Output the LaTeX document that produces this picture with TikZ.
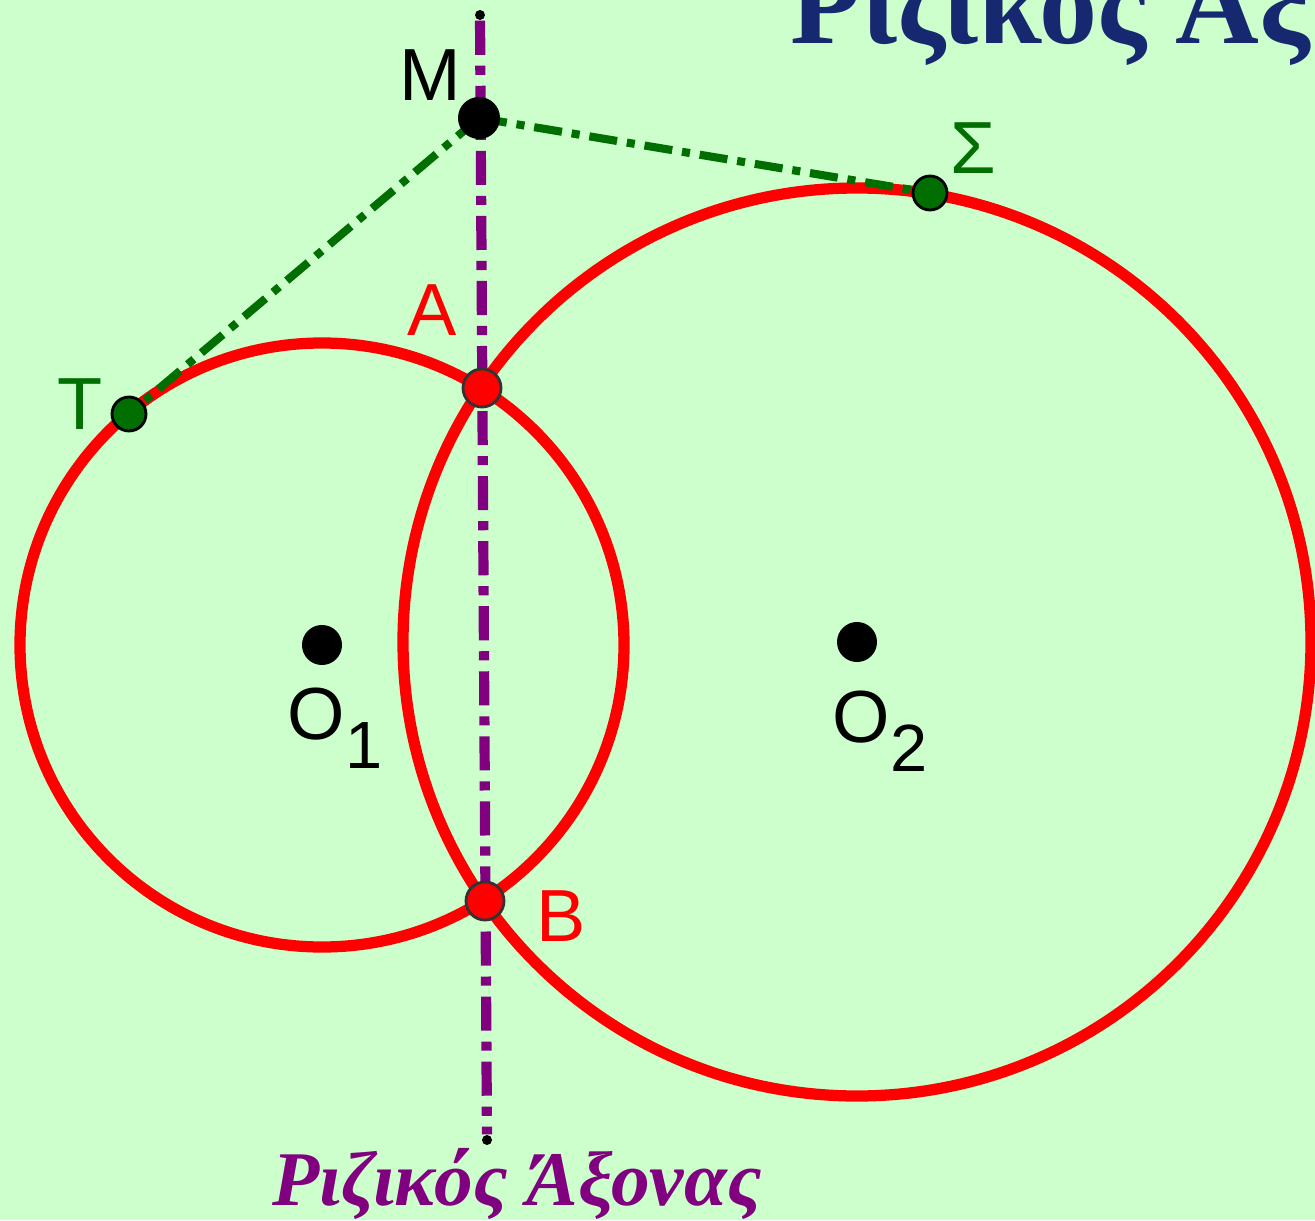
\documentclass[tikz,border=0pt]{standalone}
\usepackage{fontspec}
\setmainfont{Liberation Serif}
\newfontfamily\lblfont{Liberation Sans}
\usetikzlibrary{positioning}
\definecolor{bgGreen}{RGB}{204,255,204}
\definecolor{axisPurple}{RGB}{128,0,128}
\definecolor{tanGreen}{RGB}{0,110,0}
\definecolor{titleBlue}{RGB}{22,40,112}
\newcommand{\lowidx}[1]{\raisebox{-0.4em}{\fontsize{19}{22}\selectfont#1}}

\begin{document}
\begin{tikzpicture}[x=0.01cm,y=0.01cm,
  every node/.style={font=\lblfont\fontsize{21}{24}\selectfont,inner sep=0pt},
  circ/.style={red,line width=3.2pt},
  radaxis/.style={axisPurple,line width=2.9pt,dash pattern=on 9.7pt off 3.1pt on 2.6pt off 3.1pt},
  tanline/.style={tanGreen,line width=2.3pt,dash pattern=on 8pt off 2.8pt on 2.3pt off 2.8pt},
  cdot/.style={circle,fill=black,minimum size=0.4cm},
  enddot/.style={circle,fill=black,minimum size=0.1cm},
  tdot/.style={circle,fill=tanGreen,draw=black,line width=0.8pt,minimum size=0.34cm},
  xdot/.style={circle,fill=red,draw=black!80,line width=0.8pt,minimum size=0.38cm}]
  \useasboundingbox (0,0) rectangle (1315,1220);
  \clip (0,0) rectangle (1315,1220);
  \fill[bgGreen] (0,0) rectangle (1315,1220);
  % centres and points
  \coordinate (O1) at (322,575);
  \coordinate (O2) at (857,578);
  \coordinate (M) at (479,1102);
  \coordinate (A) at (482,832);
  \coordinate (B) at (485,319);
  \coordinate (T) at (129,806);
  \coordinate (S) at (930,1027);
  \draw[circ] (O1) circle (302);
  \draw[circ] (O2) circle (454);
  \node[enddot] (axtop) at (480,1205) {};
  \node[enddot] (axbot) at (487,80) {};
  \draw[radaxis] (axtop) -- (axbot);
  \draw[tanline] (M) -- (T);
  \draw[tanline] (M) -- (S);
  \node[cdot] (dO1) at (O1) {};
  \node[cdot] (dO2) at (O2) {};
  \node[cdot,minimum size=0.42cm] (dM) at (M) {};
  \node[xdot] (dA) at (A) {};
  \node[xdot] (dB) at (B) {};
  \node[tdot] (dT) at (T) {};
  \node[tdot] (dS) at (S) {};
  % labels
  \node (lM) at (430,1145) {M};
  \node[red] (lA) at (432,910) {A};
  \node[red] (lB) at (561,304) {B};
  \node[tanGreen] (lT) at (80,816) {T};
  \node[tanGreen] (lS) at (973,1072) {Σ};
  \node[anchor=base west] (lO1) at (287,481) {O\lowidx{1}};
  \node[anchor=base west] (lO2) at (832,478) {O\lowidx{2}};
  \node[anchor=base west,font=\bfseries\fontsize{33}{36}\selectfont,text=titleBlue] (title) at (790,1176) {Ριζικός Άξ};
  \node[anchor=base,font=\bfseries\itshape\fontsize{22}{26}\selectfont,text=axisPurple] (axlabel) at (517,15) {Ριζικός Άξονας};
\end{tikzpicture}
\end{document}
